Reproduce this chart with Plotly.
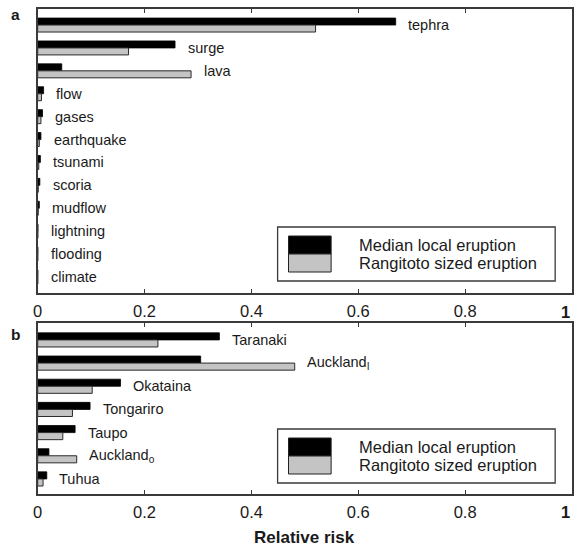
import plotly.graph_objects as go

# ---------------- data ----------------
hazards = ["tephra", "surge", "lava", "flow", "gases", "earthquake", "tsunami",
           "scoria", "mudflow", "lightning", "flooding", "climate"]
hazard_median = [0.670, 0.257, 0.045, 0.011, 0.009, 0.006, 0.005, 0.004, 0.003, 0.0005, 0.0003, 0.0002]
hazard_rangitoto = [0.520, 0.170, 0.287, 0.007, 0.006, 0.003, 0.002, 0.001, 0.001, 0.0002, 0.0001, 0.0001]

sources = ["Taranaki", "Auckland<sub>I</sub>", "Okataina", "Tongariro", "Taupo",
           "Auckland<sub>o</sub>", "Tuhua"]
source_median = [0.340, 0.305, 0.155, 0.098, 0.070, 0.021, 0.017]
source_rangitoto = [0.225, 0.481, 0.102, 0.065, 0.047, 0.073, 0.010]

series_names = ["Median local eruption", "Rangitoto sized eruption"]
x_ticks = [0, 0.2, 0.4, 0.6, 0.8, 1]
x_tick_text = ["0", "0.2", "0.4", "0.6", "0.8", "1"]
panel_letters = ["a", "b"]
x_title = "Relative risk"

# ---------------- style ----------------
W, H = 575, 548
FONT = "Liberation Sans, Arial, Helvetica, sans-serif"
FRAME = "#3a3a3a"
GREY = "#c4c4c4"
TXT = "#1a1a1a"


def px(x):
    return x / W


def py(y):
    return 1 - y / H


fig = go.Figure()

for cats, med, ran, xa, ya in [(hazards, hazard_median, hazard_rangitoto, "x", "y"),
                               (sources, source_median, source_rangitoto, "x2", "y2")]:
    fig.add_trace(go.Bar(y=cats, x=med, orientation="h", name=series_names[0],
                         marker=dict(color="black", line=dict(color="black", width=0.8)),
                         xaxis=xa, yaxis=ya, showlegend=False))
    fig.add_trace(go.Bar(y=cats, x=ran, orientation="h", name=series_names[1],
                         marker=dict(color=GREY, line=dict(color="#2a2a2a", width=1)),
                         xaxis=xa, yaxis=ya, showlegend=False))

annotations = []
for cats, med, ran, xr, yr in [(hazards, hazard_median, hazard_rangitoto, "x", "y"),
                               (sources, source_median, source_rangitoto, "x2", "y2")]:
    for c, a, b in zip(cats, med, ran):
        annotations.append(dict(x=max(a, b) + 0.02, y=c, xref=xr, yref=yr, text=c,
                                showarrow=False, xanchor="left", yanchor="middle",
                                font=dict(family=FONT, size=14.5, color=TXT)))

# last tick label ("1") sits at the right edge of the frame
for xr, ybase in [("x", 312), ("x2", 512)]:
    annotations.append(dict(x=x_ticks[-1], y=py(ybase), xref=xr, yref="paper",
                            text="<b>" + x_tick_text[-1] + "</b>", showarrow=False,
                            xanchor="right", yanchor="middle",
                            font=dict(family=FONT, size=16.5, color=TXT)))

# panel letters
for letter, yc in zip(panel_letters, [14, 335]):
    annotations.append(dict(x=px(11), y=py(yc), xref="paper", yref="paper",
                            text="<b>" + letter + "</b>", showarrow=False,
                            xanchor="center", yanchor="middle",
                            font=dict(family=FONT, size=15.5, color=TXT)))
# x title
annotations.append(dict(x=px(302), y=py(537), xref="paper", yref="paper",
                        text="<b>" + x_title + "</b>", showarrow=False,
                        xanchor="center", yanchor="middle",
                        font=dict(family=FONT, size=17, color=TXT)))

# custom legends (box with stacked swatches)
shapes = []
for top in [227, 429]:
    box_b = top + 54
    shapes.append(dict(type="rect", xref="paper", yref="paper",
                       x0=px(275), x1=px(555), y0=py(box_b), y1=py(top),
                       line=dict(color=FRAME, width=1.3), fillcolor="white", layer="above"))
    shapes.append(dict(type="rect", xref="paper", yref="paper",
                       x0=px(286), x1=px(329), y0=py(top + 27), y1=py(top + 9),
                       line=dict(color="#222", width=1), fillcolor="black", layer="above"))
    shapes.append(dict(type="rect", xref="paper", yref="paper",
                       x0=px(286), x1=px(329), y0=py(top + 45), y1=py(top + 27),
                       line=dict(color="#222", width=1), fillcolor=GREY, layer="above"))
    for i, nm in enumerate(series_names):
        annotations.append(dict(x=px(355), y=py(top + 18 + 18 * i), xref="paper", yref="paper",
                                text=nm, showarrow=False, xanchor="left", yanchor="middle",
                                font=dict(family=FONT, size=16.5, color=TXT)))

xaxis_common = dict(range=[0, 1], tickvals=x_ticks[:-1], ticktext=x_tick_text[:-1],
                    ticks="inside", ticklen=4, tickwidth=1, tickcolor=FRAME,
                    showline=True, linecolor=FRAME, linewidth=1.5, mirror="ticks",
                    showgrid=False, zeroline=False, ticklabelstandoff=2,
                    tickfont=dict(family=FONT, size=16.5, color=TXT),
                    domain=[px(33), px(572)], fixedrange=True)
yaxis_common = dict(showticklabels=False, ticks="", showline=True, linecolor=FRAME,
                    linewidth=1.5, mirror=True, showgrid=False, zeroline=False,
                    type="category", fixedrange=True)

fig.update_layout(
    width=W, height=H, margin=dict(l=0, r=0, t=0, b=0),
    paper_bgcolor="white", plot_bgcolor="white",
    barmode="group", bargap=0.39,
    xaxis=dict(**xaxis_common, anchor="y"),
    yaxis=dict(**yaxis_common, domain=[py(293), py(9)], range=[11.70, -0.70], anchor="x"),
    xaxis2=dict(**xaxis_common, anchor="y2"),
    yaxis2=dict(**yaxis_common, domain=[py(494), py(323)], range=[6.65, -0.73], anchor="x2"),
    annotations=annotations, shapes=shapes, showlegend=False,
)

fig.write_html("out.html")
